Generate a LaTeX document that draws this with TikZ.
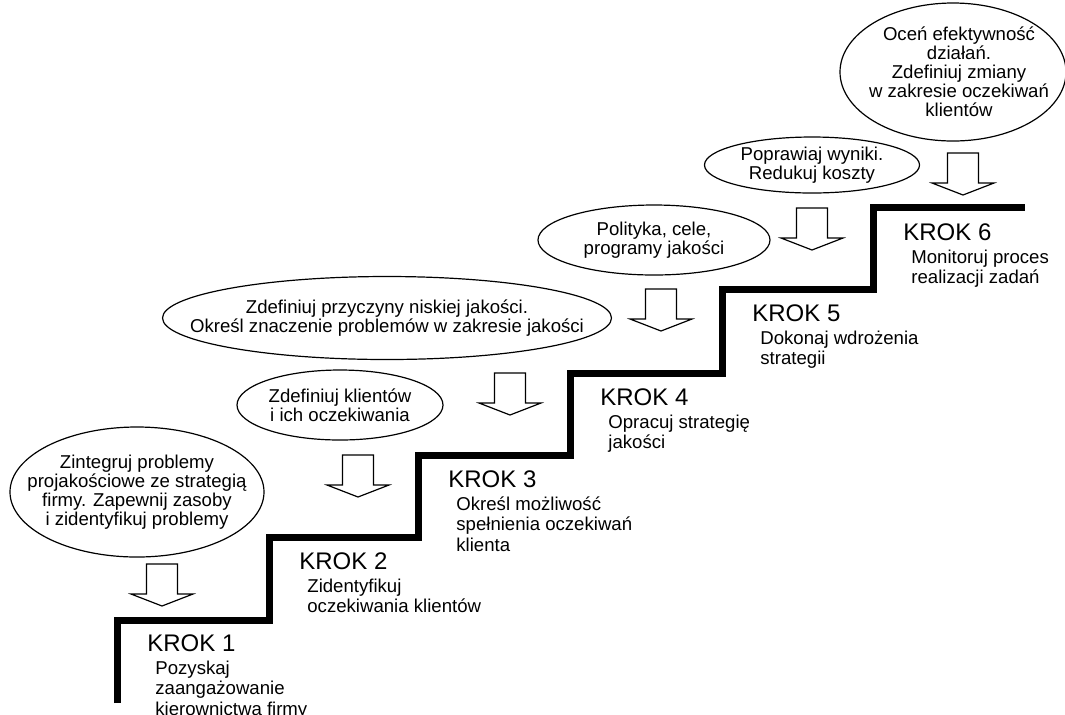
\documentclass[tikz,border=0pt]{standalone}
\usepackage{fontspec}
\setmainfont{Liberation Sans}
\usetikzlibrary{shapes.geometric,positioning}

\newcommand\krokfont{\fontsize{12}{14}\selectfont}
\newcommand\opisfont{\fontsize{9.3}{10.2}\selectfont}
\newcommand\dymekfont{\fontsize{9.3}{9.5}\selectfont}

\tikzset{
  stairs/.style={line width=3.5pt, line join=miter},
  dymek/.style={ellipse, draw, line width=0.6pt, inner sep=0pt},
  napis/.style={inner sep=0pt, align=center, font=\dymekfont},
  krok/.style={anchor=base west, inner sep=0pt, font=\krokfont},
  opis/.style={inner sep=0pt, align=left, font=\opisfont},
  pics/strzalka/.style={code={
    \draw[line width=0.6pt, line join=miter]
      (-15.5,0) -- (15.5,0) -- (15.5,30) -- (31,30) -- (0,42)
      -- (-31,30) -- (-15.5,30) -- cycle;}}
}

\begin{document}
\begin{tikzpicture}[x=0.5pt, y=-0.5pt]
  \useasboundingbox (0,0) rectangle (1065,714);

  % the stairs
  \draw[stairs] (117,703) -- (117,620) -- (269,620) -- (269,537)
    -- (418,537) -- (418,455) -- (570,455) -- (570,373)
    -- (722,373) -- (722,289) -- (873,289) -- (873,207) -- (1025,207);

  % steps with their descriptions
  \foreach \i/\x/\y/\txt in {
      1/147/651/{Pozyskaj\\zaangażowanie\\kierownictwa firmy},
      2/299/569/{Zidentyfikuj\\oczekiwania klientów},
      3/448/487/{Określ możliwość\\spełnienia oczekiwań\\klienta},
      4/600/405/{Opracuj strategię\\jakości},
      5/752/321/{Dokonaj wdrożenia\\strategii},
      6/903/240/{Monitoruj proces\\realizacji zadań}} {
    \node[krok] (k\i) at (\x,\y) {KROK \i};
    \node[opis, below right=4.4pt and 4pt of k\i.south west] (d\i) {\txt};
  }

  % bubbles
  \node[dymek, minimum width=127pt, minimum height=65pt] (dymek1) at (137,492) {};
  \node[dymek, minimum width=103pt, minimum height=35pt] (dymek2) at (340,405) {};
  \node[dymek, minimum width=224.5pt, minimum height=41.5pt] (dymek3) at (387,318) {};
  \node[dymek, minimum width=116pt, minimum height=35pt] (dymek4) at (654,240) {};
  \node[dymek, minimum width=107.5pt, minimum height=28pt] (dymek5) at (812,165) {};
  \node[dymek, minimum width=113pt, minimum height=69pt] (dymek6) at (953,72) {};

  \node[napis] (t1) at (dymek1)
    {Zintegruj problemy\\projakościowe ze strategią\\firmy. Zapewnij zasoby\\i zidentyfikuj problemy};
  \node[napis] (t2) at (dymek2) {Zdefiniuj klientów\\i ich oczekiwania};
  \node[napis] (t3) at (dymek3)
    {Zdefiniuj przyczyny niskiej jakości.\\Określ znaczenie problemów w zakresie jakości};
  \node[napis] (t4) at (dymek4) {Polityka, cele,\\programy jakości};
  \node[napis] (t5) at (dymek5) {Poprawiaj wyniki.\\Redukuj koszty};
  \node[napis] (t6) at ([xshift=3pt]dymek6)
    {Oceń efektywność\\działań.\\Zdefiniuj zmiany\\w zakresie oczekiwań\\klientów};

  % arrows onto the steps
  \pic (s1) at (162,564) {strzalka};
  \pic (s2) at (358,455) {strzalka};
  \pic (s3) at (510,373) {strzalka};
  \pic (s4) at (661,289) {strzalka};
  \pic (s5) at (812,208) {strzalka};
  \pic (s6) at (963,153) {strzalka};
\end{tikzpicture}
\end{document}
